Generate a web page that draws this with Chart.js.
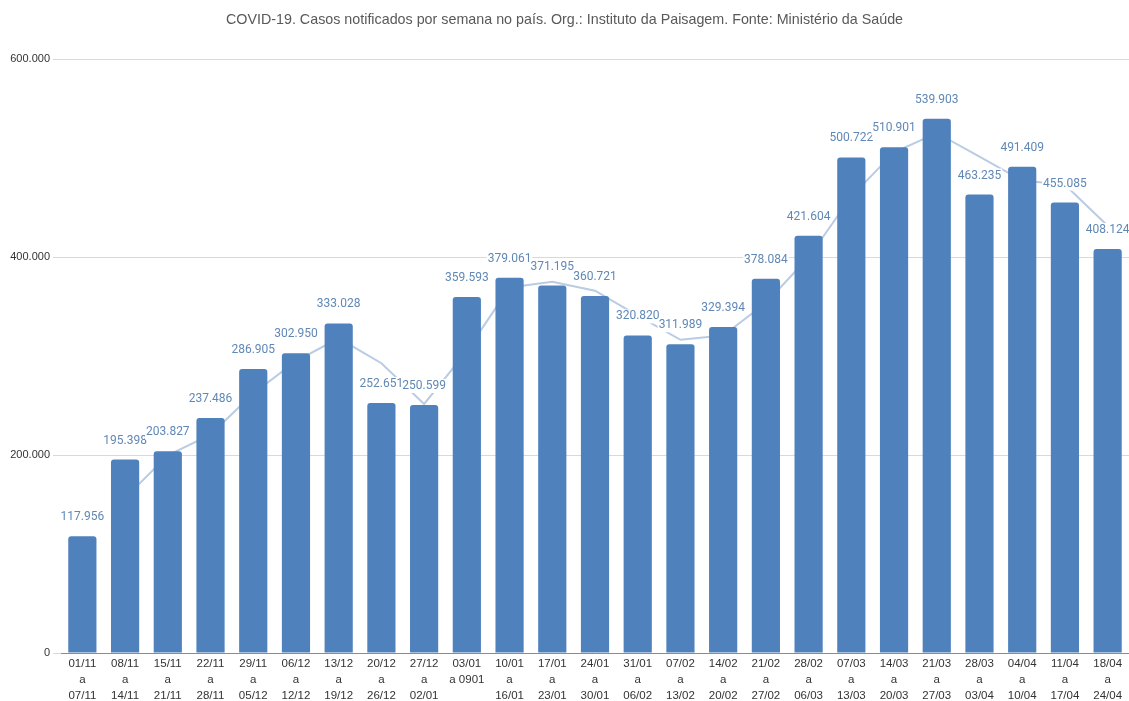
<!DOCTYPE html>
<html lang="pt-BR">
<head>
<meta charset="utf-8">
<title>COVID-19 casos por semana</title>
<script src="https://cdn.jsdelivr.net/npm/chart.js@4.4.1/dist/chart.umd.min.js"></script>
<style>
  html, body { margin: 0; padding: 0; background: #fff; }
  #wrap { width: 1129px; height: 701px; overflow: hidden; }
</style>
</head>
<body>
<div id="wrap"><canvas id="grafico" width="1129" height="701"></canvas></div>
<script>
// semanas (rótulos do eixo x, em várias linhas)
const semanas = [
    ["01/11", "a", "07/11"], ["08/11", "a", "14/11"], ["15/11", "a", "21/11"],
    ["22/11", "a", "28/11"], ["29/11", "a", "05/12"], ["06/12", "a", "12/12"],
    ["13/12", "a", "19/12"], ["20/12", "a", "26/12"], ["27/12", "a", "02/01"],
    ["03/01", "a 0901"], ["10/01", "a", "16/01"], ["17/01", "a", "23/01"],
    ["24/01", "a", "30/01"], ["31/01", "a", "06/02"], ["07/02", "a", "13/02"],
    ["14/02", "a", "20/02"], ["21/02", "a", "27/02"], ["28/02", "a", "06/03"],
    ["07/03", "a", "13/03"], ["14/03", "a", "20/03"], ["21/03", "a", "27/03"],
    ["28/03", "a", "03/04"], ["04/04", "a", "10/04"], ["11/04", "a", "17/04"],
    ["18/04", "a", "24/04"]
];

// casos notificados por semana
const casos = [
    117956, 195398, 203827, 237486, 286905, 302950, 333028, 252651, 250599,
    359593, 379061, 371195, 360721, 320820, 311989, 329394, 378084, 421604,
    500722, 510901, 539903, 463235, 491409, 455085, 408124
];

// linha de tendência
const tendencia = [
    null, 156700, 199600, 220700, 262200, 294900, 318000, 292800, 251600,
    305100, 369300, 375100, 366000, 340800, 316400, 320700, 353700, 399800,
    461200, 505800, 525400, 501600, 477300, 473200, 431600
];

const yTicks = [0, 200000, 400000, 600000];

// formato brasileiro: 117.956
function fmt(v) {
    return String(v).replace(/\B(?=(\d{3})+(?!\d))/g, ".");
}

// rótulos de dados com fundo branco
const rotulos = {
    id: "rotulos",
    afterDatasetsDraw(chart) {
        const ctx = chart.ctx;
        const meta = chart.getDatasetMeta(0);
        ctx.save();
        ctx.font = "12px Roboto";
        ctx.textAlign = "center";
        ctx.textBaseline = "middle";
        meta.data.forEach((bar, i) => {
            const txt = fmt(casos[i]);
            const w = ctx.measureText(txt).width;
            const y = bar.y - 19;
            ctx.fillStyle = "#ffffff";
            ctx.fillRect(bar.x - w / 2 - 1, y - 7, w + 2, 14);
            ctx.fillStyle = "#6088b5";
            ctx.fillText(txt, bar.x, y);
        });
        ctx.restore();
    }
};

new Chart(document.getElementById("grafico"), {
    type: "bar",
    data: {
        labels: semanas,
        datasets: [
            {
                type: "bar",
                data: casos,
                backgroundColor: "#4f81bd",
                borderRadius: 3,
                categoryPercentage: 1,
                barPercentage: 0.66,
                order: 1
            },
            {
                type: "line",
                data: tendencia,
                borderColor: "#b9cce4",
                borderWidth: 2,
                pointRadius: 0,
                tension: 0,
                order: 2
            }
        ]
    },
    options: {
        responsive: false,
        animation: false,
        layout: { padding: { left: 0, right: 0, top: 0, bottom: 0 } },
        plugins: {
            legend: { display: false },
            tooltip: { enabled: false },
            title: {
                display: true,
                text: "COVID-19. Casos notificados por semana no país. Org.: Instituto da Paisagem. Fonte: Ministério da Saúde",
                color: "#595959",
                font: { family: "'Liberation Sans'", size: 14.3, weight: "normal" },
                padding: { top: 11, bottom: 31 }
            }
        },
        scales: {
            x: {
                grid: { display: false, drawTicks: false },
                border: { display: true, color: "#8c8c8c", width: 1 },
                ticks: {
                    color: "#333333",
                    font: { family: "'Liberation Sans'", size: 11.5, lineHeight: "16px" },
                    maxRotation: 0,
                    autoSkip: false,
                    padding: 3
                },
                afterFit(scale) { scale.height = 48; }
            },
            y: {
                min: 0,
                max: 600000,
                afterBuildTicks(scale) { scale.ticks = yTicks.map(v => ({ value: v })); },
                grid: { color: "#d9d9d9", tickLength: 8, drawTicks: true },
                border: { display: false },
                ticks: {
                    color: "#333333",
                    font: { family: "'Liberation Sans'", size: 11 },
                    padding: 3,
                    callback: v => fmt(v)
                },
                afterFit(scale) { scale.width = 61; }
            }
        }
    },
    plugins: [rotulos]
});
</script>
</body>
</html>
